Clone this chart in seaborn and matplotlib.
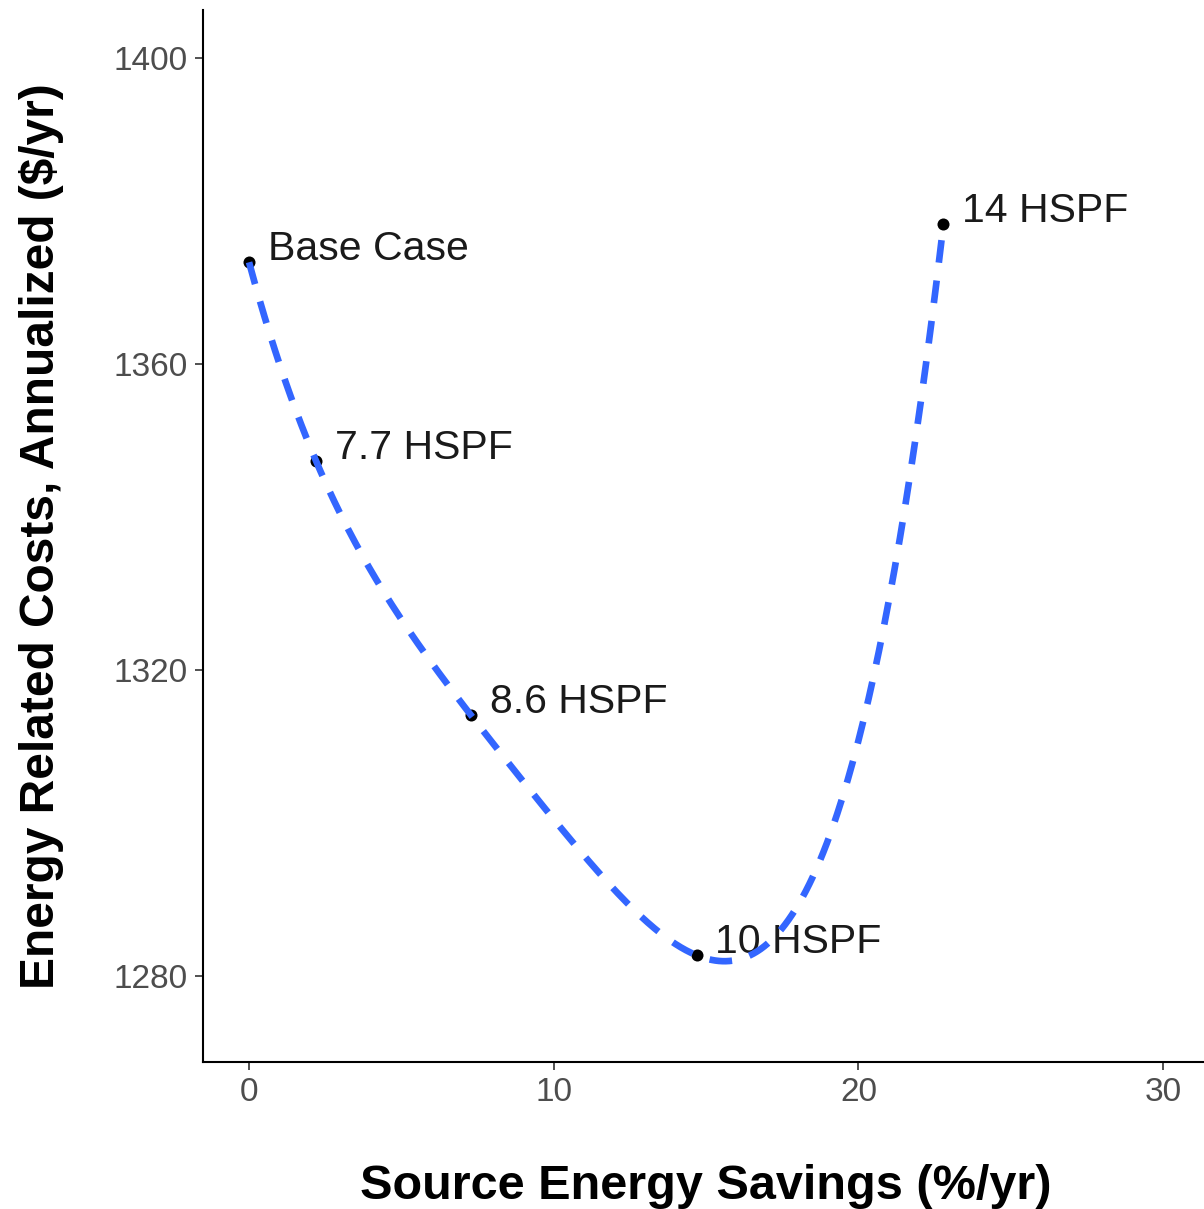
import numpy as np
import pandas as pd
import matplotlib
matplotlib.use("Agg")
import matplotlib.pyplot as plt
import seaborn as sns

# ---- data ----
labels = ["Base Case", "7.7 HSPF", "8.6 HSPF", "10 HSPF", "14 HSPF"]
savings = [0.0, 2.2, 7.28, 14.69, 22.79]
costs = [1373.3, 1347.3, 1314.1, 1282.7, 1378.3]
x_ticks = [0, 10, 20, 30]
y_ticks = [1280, 1320, 1360, 1400]

df = pd.DataFrame({"label": labels, "savings": savings, "costs": costs})
# smoother: polynomial fit y ~ poly(x, 4) (like geom_smooth(method="lm"))
coef = np.polyfit(savings, costs, 4)
sx = np.linspace(min(savings), max(savings), 400)
smooth = pd.DataFrame({"savings": sx, "costs": np.polyval(coef, sx)})

sns.set_theme(style="white")
plt.rcParams["font.family"] = ["Liberation Sans", "DejaVu Sans"]

fig = plt.figure(figsize=(12.04, 12.09), dpi=100)
ax = fig.add_axes([0.1689, 0.1216, 0.8351, 0.86996])

sns.scatterplot(data=df, x="savings", y="costs", ax=ax, color="black",
                s=75, edgecolor="black", linewidth=0, zorder=3)
sns.lineplot(data=smooth, x="savings", y="costs", ax=ax, color="#3366FF",
             linewidth=4.8, zorder=5)
ax.lines[-1].set_dashes((3.4, 2.7))

for _, r in df.iterrows():
    ax.annotate(r["label"], (r["savings"], r["costs"]), xytext=(13.5, 9.5),
                textcoords="offset points", ha="left", va="center",
                fontsize=29.5, color="#1a1a1a", zorder=4)

ax.set_xlim(-1.5, 31.5)
ax.set_ylim(1268.75, 1406.25)
ax.set_xticks(x_ticks)
ax.set_yticks(y_ticks)
ax.tick_params(axis="both", which="both", length=6, width=1.2, color="#333333",
               labelsize=24, labelcolor="#4d4d4d", direction="out",
               bottom=True, left=True, pad=5)
for s in ["top", "right"]:
    ax.spines[s].set_visible(False)
for s in ["left", "bottom"]:
    ax.spines[s].set_color("black")
    ax.spines[s].set_linewidth(1.5)

ax.set_xlabel("Source Energy Savings (%/yr)", fontsize=35, fontweight="bold",
              color="black", labelpad=40)
ax.set_ylabel(r"Energy Related Costs, Annualized (\$/yr)", fontsize=34.5,
              fontweight="bold", color="black", labelpad=36)

fig.savefig("out.png", dpi=100)
